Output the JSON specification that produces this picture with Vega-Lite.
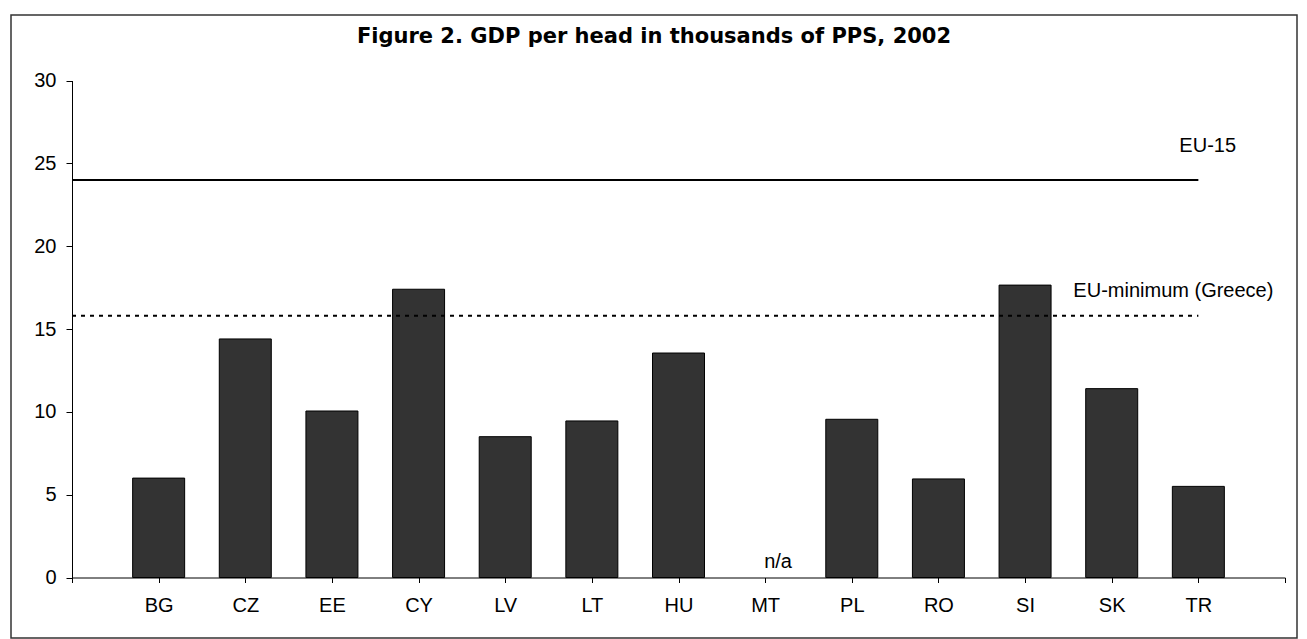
{
  "$schema": "https://vega.github.io/schema/vega-lite/v6.json",
  "width": 1286,
  "height": 623,
  "autosize": {"type": "none"},
  "padding": {"left": 11, "top": 15, "right": 10, "bottom": 1},
  "background": "white",
  "config": {
    "font": "Liberation Sans",
    "view": {"stroke": "#333333", "strokeWidth": 1.5},
    "axis": {"labelFont": "Liberation Sans", "labelFontSize": 20, "labelColor": "black", "domainColor": "black", "tickColor": "black", "grid": false, "title": null}
  },
  "title": {
    "text": "Figure 2. GDP per head in thousands of PPS, 2002",
    "font": "DejaVu Sans",
    "fontSize": 21,
    "fontWeight": "bold",
    "color": "black",
    "anchor": "middle",
    "frame": "group",
    "baseline": "alphabetic",
    "offset": 0,
    "dy": 49
  },
  "datasets": {
    "bars": [
      {"country": "BG", "gdp": 6.0},
      {"country": "CZ", "gdp": 14.4},
      {"country": "EE", "gdp": 10.05},
      {"country": "CY", "gdp": 17.4},
      {"country": "LV", "gdp": 8.5},
      {"country": "LT", "gdp": 9.45},
      {"country": "HU", "gdp": 13.55},
      {"country": "PL", "gdp": 9.55},
      {"country": "RO", "gdp": 5.95},
      {"country": "SI", "gdp": 17.65},
      {"country": "SK", "gdp": 11.4},
      {"country": "TR", "gdp": 5.5}
    ],
    "refs": [
      {"name": "EU-15", "value": 24.0, "start": "", "end": "TR"},
      {"name": "EU-minimum (Greece)", "value": 15.8, "start": "", "end": "TR"}
    ],
    "na": [
      {"country": "MT", "gdp": 0, "label": "n/a"}
    ]
  },
  "layer": [
    {
      "data": {"name": "bars"},
      "mark": {"type": "bar", "width": 52, "fill": "#333333", "stroke": "black", "strokeWidth": 1},
      "encoding": {
        "x": {
          "field": "country", "type": "nominal",
          "scale": {"type": "point", "domain": ["", "BG", "CZ", "EE", "CY", "LV", "LT", "HU", "MT", "PL", "RO", "SI", "SK", "TR", " "], "range": [61, 1274], "padding": 0},
          "axis": {"orient": "bottom", "offset": -60.5, "labelAngle": 0, "tickSize": 5, "labelPadding": 13, "domainWidth": 1, "labelBaseline": "top"}
        },
        "y": {
          "field": "gdp", "type": "quantitative",
          "scale": {"domain": [0, 30], "range": [562.5, 65.5], "nice": false, "zero": true},
          "axis": {"orient": "left", "offset": -61, "values": [0, 5, 10, 15, 20, 25, 30], "tickSize": 6, "labelPadding": 10, "domainWidth": 1}
        }
      }
    },
    {
      "data": {"name": "refs"},
      "transform": [{"filter": "datum.name === 'EU-15'"}],
      "mark": {"type": "rule", "stroke": "black", "strokeWidth": 2},
      "encoding": {
        "x": {"field": "start", "type": "nominal"},
        "x2": {"field": "end"},
        "y": {"field": "value", "type": "quantitative"}
      }
    },
    {
      "data": {"name": "refs"},
      "transform": [{"filter": "datum.name !== 'EU-15'"}],
      "mark": {"type": "rule", "stroke": "black", "strokeWidth": 2, "strokeDash": [4, 5]},
      "encoding": {
        "x": {"field": "start", "type": "nominal"},
        "x2": {"field": "end"},
        "y": {"field": "value", "type": "quantitative"}
      }
    },
    {
      "data": {"name": "refs"},
      "transform": [{"filter": "datum.name === 'EU-15'"}],
      "mark": {"type": "text", "align": "left", "baseline": "alphabetic", "dx": -19, "dy": -28, "fontSize": 20, "color": "black"},
      "encoding": {
        "x": {"field": "end", "type": "nominal"},
        "y": {"field": "value", "type": "quantitative"},
        "text": {"field": "name"}
      }
    },
    {
      "data": {"name": "refs"},
      "transform": [{"filter": "datum.name !== 'EU-15'"}],
      "mark": {"type": "text", "align": "left", "baseline": "alphabetic", "dx": -125, "dy": -19, "fontSize": 20, "color": "black"},
      "encoding": {
        "x": {"field": "end", "type": "nominal"},
        "y": {"field": "value", "type": "quantitative"},
        "text": {"field": "name"}
      }
    },
    {
      "data": {"name": "na"},
      "mark": {"type": "text", "align": "left", "baseline": "alphabetic", "dx": -1, "dy": -9.5, "fontSize": 20, "color": "black"},
      "encoding": {
        "x": {"field": "country", "type": "nominal"},
        "y": {"field": "gdp", "type": "quantitative"},
        "text": {"field": "label"}
      }
    }
  ]
}
